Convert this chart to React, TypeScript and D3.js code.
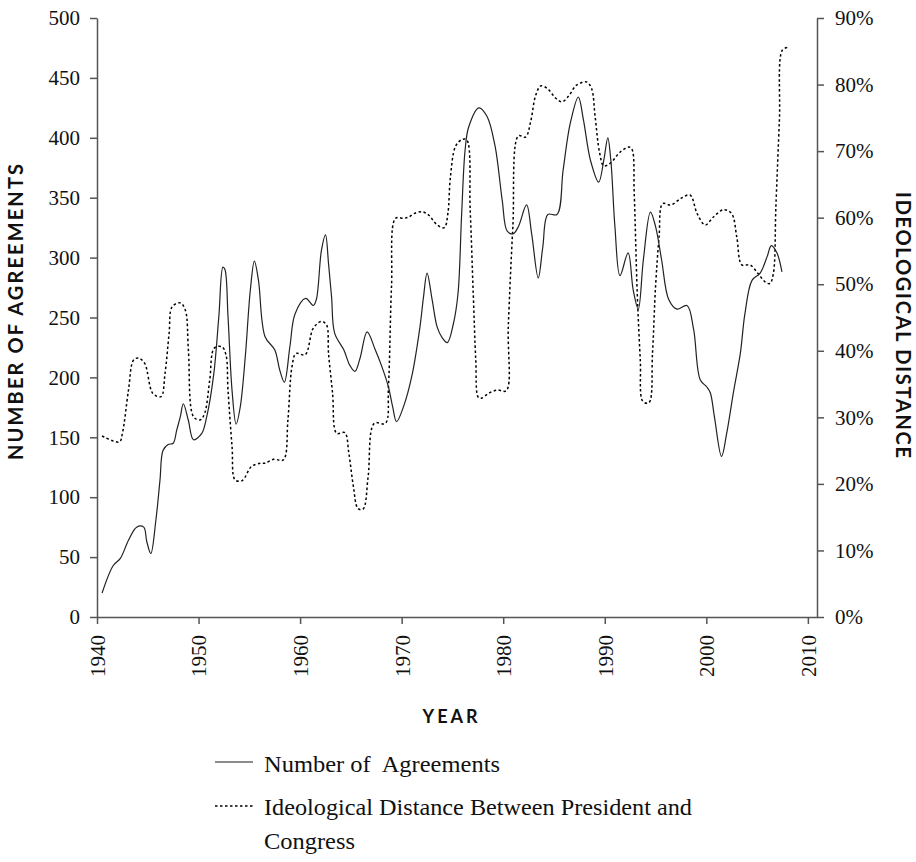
import React, { useEffect, useRef } from 'react';
import * as d3 from 'd3';

// Number of agreements (left axis)
const agreementYears = [
  1940.5, 1941.6, 1942.3, 1943.1, 1943.9, 1944.6, 1944.9, 1945.3, 1945.8, 1946.2,
  1946.5, 1947.0, 1947.5, 1947.85, 1948.2, 1948.5, 1949.0, 1949.5, 1950.3, 1950.8,
  1951.5, 1952.0, 1952.4, 1952.6, 1952.9, 1953.3, 1953.7, 1954.1, 1954.6, 1955.1,
  1955.5, 1955.9, 1956.55, 1957.5, 1958.0, 1958.45, 1959.0, 1959.5, 1960.55, 1961.3,
  1961.6, 1962.1, 1962.5, 1962.8, 1963.1, 1963.4, 1964.3, 1964.9, 1965.4, 1965.9,
  1966.6, 1967.4, 1968.05, 1968.7, 1969.1, 1969.5, 1970.2, 1971.0, 1971.8, 1972.15,
  1972.5, 1973.0, 1973.5, 1974.0, 1974.5, 1975.1, 1975.55, 1975.9, 1976.25, 1976.6,
  1977.6, 1978.4, 1979.2, 1979.9, 1980.4, 1981.0, 1981.5, 1982.3, 1982.8, 1983.45,
  1983.9, 1984.4, 1985.3, 1985.9, 1986.6, 1987.4, 1987.9, 1988.6, 1989.4, 1989.9,
  1990.3, 1990.6, 1991.0, 1991.5, 1992.3, 1992.8, 1993.3, 1993.8, 1994.5, 1995.0,
  1995.6, 1996.3, 1997.1, 1998.1, 1998.75, 1999.4, 2000.05, 2000.4, 2000.8, 2001.5,
  2002.0, 2002.7, 2003.35, 2003.8, 2004.5, 2005.3, 2006.0, 2006.4, 2006.95, 2007.45,
];
const agreementCounts = [
  20, 43, 49, 64, 75, 75, 63, 53, 81, 114,
  139, 144, 145, 156, 167, 178, 164, 148, 153, 167,
  203, 251, 292, 290, 251, 189, 161, 175, 217, 273,
  297, 281, 234, 223, 206, 196, 226, 253, 266, 260,
  265, 306, 319, 295, 267, 237, 223, 210, 205, 216,
  238, 223, 209, 192, 176, 163, 176, 201, 242, 267,
  287, 265, 242, 233, 229, 245, 270, 335, 390, 409,
  425, 418, 393, 348, 322, 320, 326, 344, 320, 283,
  309, 336, 336, 373, 412, 434, 415, 381, 363, 381,
  400, 381, 326, 285, 304, 273, 257, 298, 338, 326,
  298, 265, 257, 260, 240, 198, 192, 187, 167, 134,
  153, 189, 220, 253, 281, 287, 301, 310, 304, 288,
];

// Ideological distance between president and congress (right axis, %)
const distanceYears = [
  1940.5, 1942.2, 1942.5, 1943.1, 1943.6, 1944.1, 1944.7, 1945.5, 1946.3, 1946.7,
  1947.1, 1947.4, 1948.2, 1948.7, 1949.0, 1949.5, 1950.15, 1950.6, 1951.1, 1951.55,
  1952.3, 1952.7, 1952.9, 1953.3, 1953.6, 1954.3, 1955.2, 1956.1, 1956.55, 1957.4,
  1958.35, 1958.8, 1959.2, 1959.6, 1960.5, 1961.3, 1962.1, 1962.6, 1962.8, 1963.2,
  1963.6, 1964.4, 1964.8, 1965.25, 1965.7, 1966.2, 1966.7, 1967.3, 1968.4, 1968.7,
  1969.0, 1969.4, 1970.2, 1970.7, 1971.2, 1972.0, 1972.65, 1973.5, 1974.2, 1974.55,
  1974.8, 1975.3, 1975.9, 1976.4, 1976.75, 1977.05, 1977.3, 1977.55, 1977.9, 1978.55,
  1979.4, 1980.3, 1980.5, 1980.95, 1981.5, 1982.2, 1982.7, 1983.2, 1983.7, 1984.35,
  1985.2, 1985.8, 1986.5, 1987.2, 1988.2, 1988.7, 1989.05, 1989.5, 1989.9, 1990.55,
  1991.55, 1992.4, 1992.7, 1992.9, 1993.2, 1993.5, 1993.75, 1994.35, 1994.7, 1995.0,
  1995.35, 1995.7, 1996.5, 1997.5, 1998.4, 1999.1, 1999.9, 2000.7, 2001.7, 2002.5,
  2003.0, 2003.5, 2004.3, 2005.1, 2005.75, 2006.25, 2006.6, 2006.85, 2007.2, 2007.5,
  2008.1,
];
const distancePcts = [
  27.2, 26.3, 27.6, 34.1, 38.6, 38.9, 38.1, 33.6, 33.1, 36.6,
  42.6, 46.6, 47.2, 46.1, 40.1, 30.1, 29.6, 30.6, 35.6, 40.4,
  40.6, 39.4, 34.1, 25.6, 20.6, 20.5, 22.6, 23.1, 23.1, 23.7,
  23.6, 29.6, 37.6, 39.6, 39.4, 43.4, 44.4, 43.9, 39.6, 33.6,
  27.6, 27.7, 24.6, 19.6, 16.3, 16.2, 21.1, 29.1, 29.1, 34.6,
  49.6, 59.9, 59.9, 60.1, 60.6, 60.9, 60.4, 58.9, 58.5, 60.6,
  66.1, 70.7, 71.7, 71.7, 61.1, 48.6, 38.6, 33.0, 32.9, 33.6,
  34.1, 34.0, 43.6, 58.6, 72.3, 72.1, 74.4, 78.4, 79.8, 79.4,
  77.9, 77.4, 78.4, 79.9, 80.4, 79.4, 75.2, 69.7, 67.8, 68.2,
  69.9, 70.6, 70.2, 63.7, 48.6, 38.6, 32.4, 32.2, 39.6, 49.6,
  57.1, 62.1, 61.9, 62.9, 63.4, 60.6, 58.9, 60.1, 61.2, 60.6,
  57.1, 52.9, 52.9, 51.6, 50.4, 50.1, 51.6, 61.6, 74.7, 85.2,
  85.6,
];

const yearTicks = [1940, 1950, 1960, 1970, 1980, 1990, 2000, 2010];
const countTicks = [0, 50, 100, 150, 200, 250, 300, 350, 400, 450, 500];
const pctTicks = [0, 10, 20, 30, 40, 50, 60, 70, 80, 90];

const W = 916;
const H = 862;
const serif = '"Liberation Serif", "DejaVu Serif", serif';
const sans = 'Lato, "Open Sans", sans-serif';

export default function App() {
  const svgRef = useRef<SVGSVGElement>(null);

  useEffect(() => {
    const svg = d3.select(svgRef.current);
    svg.selectAll('*').remove();

    const x = d3.scaleLinear().domain([1940, 2010.9]).range([97, 817]);
    const yLeft = d3.scaleLinear().domain([0, 500]).range([617, 18]);
    const yRight = d3.scaleLinear().domain([0, 90]).range([617, 18]);
    const axisColor = '#555';

    // left axis
    const gl = svg
      .append('g')
      .attr('transform', `translate(${x.range()[0]},0)`)
      .call(d3.axisLeft(yLeft).tickValues(countTicks).tickSize(7).tickSizeOuter(0).tickPadding(10));

    // right axis
    const gr = svg
      .append('g')
      .attr('transform', `translate(${x.range()[1]},0)`)
      .call(
        d3
          .axisRight(yRight)
          .tickValues(pctTicks)
          .tickSize(7)
          .tickSizeOuter(0)
          .tickPadding(11)
          .tickFormat((d) => `${d}%`)
      );

    // bottom axis, labels turned to read upwards
    const gb = svg
      .append('g')
      .attr('transform', `translate(0,${yLeft(0)})`)
      .call(d3.axisBottom(x).tickValues(yearTicks).tickSize(7).tickSizeOuter(0).tickFormat(d3.format('d')));
    gb.selectAll('text')
      .attr('text-anchor', 'end')
      .attr('transform', 'rotate(-90)')
      .attr('x', -18)
      .attr('y', 0)
      .attr('dy', '0.35em');

    [gl, gr, gb].forEach((g) => {
      g.attr('font-family', serif).attr('font-size', 21);
      g.selectAll('text').attr('fill', '#111');
      g.selectAll('path.domain').attr('stroke', axisColor).attr('stroke-width', 1.5);
      g.selectAll('.tick line').attr('stroke', axisColor).attr('stroke-width', 1.5);
    });

    // data lines
    const curve = d3.curveCatmullRom.alpha(0.5);
    const agreementLine = d3
      .line<number>()
      .x((d, i) => x(agreementYears[i]))
      .y((d) => yLeft(d))
      .curve(curve);
    const distanceLine = d3
      .line<number>()
      .x((d, i) => x(distanceYears[i]))
      .y((d) => yRight(d))
      .curve(curve);

    svg
      .append('path')
      .attr('d', distanceLine(distancePcts))
      .attr('fill', 'none')
      .attr('stroke', '#000')
      .attr('stroke-width', 1.5)
      .attr('stroke-dasharray', '2.5 2.5');

    svg
      .append('path')
      .attr('d', agreementLine(agreementCounts))
      .attr('fill', 'none')
      .attr('stroke', '#222')
      .attr('stroke-width', 1.2);

    // axis titles
    svg
      .append('text')
      .attr('transform', 'translate(23,312) rotate(-90)')
      .attr('text-anchor', 'middle')
      .attr('font-family', sans)
      .attr('font-weight', 700)
      .attr('font-size', 20)
      .attr('textLength', 296)
      .attr('lengthAdjust', 'spacing')
      .attr('fill', '#111')
      .text('NUMBER OF AGREEMENTS');

    svg
      .append('text')
      .attr('transform', 'translate(896,325) rotate(90)')
      .attr('text-anchor', 'middle')
      .attr('font-family', sans)
      .attr('font-weight', 700)
      .attr('font-size', 20)
      .attr('textLength', 266)
      .attr('lengthAdjust', 'spacing')
      .attr('fill', '#111')
      .text('IDEOLOGICAL DISTANCE');

    svg
      .append('text')
      .attr('x', 450)
      .attr('y', 723)
      .attr('text-anchor', 'middle')
      .attr('font-family', sans)
      .attr('font-weight', 700)
      .attr('font-size', 18)
      .attr('textLength', 55)
      .attr('lengthAdjust', 'spacing')
      .attr('fill', '#111')
      .text('YEAR');

    // legend
    const legend = svg.append('g');
    legend
      .append('line')
      .attr('x1', 215)
      .attr('x2', 253)
      .attr('y1', 762)
      .attr('y2', 762)
      .attr('stroke', '#666')
      .attr('stroke-width', 1.3);
    legend
      .append('line')
      .attr('x1', 215)
      .attr('x2', 253)
      .attr('y1', 806)
      .attr('y2', 806)
      .attr('stroke', '#000')
      .attr('stroke-width', 1.5)
      .attr('stroke-dasharray', '2.5 2.5');

    const legendRows = [
      { text: 'Number of  Agreements', y: 772, len: 236 },
      { text: 'Ideological Distance Between President and', y: 815, len: 428 },
      { text: 'Congress', y: 849, len: 91 },
    ];
    legend
      .selectAll('text')
      .data(legendRows)
      .enter()
      .append('text')
      .attr('x', 264)
      .attr('y', (d) => d.y)
      .attr('font-family', serif)
      .attr('font-size', 23)
      .attr('textLength', (d) => d.len)
      .attr('lengthAdjust', 'spacingAndGlyphs')
      .attr('fill', '#111')
      .style('white-space', 'pre')
      .text((d) => d.text);
  }, []);

  return (
    <svg
      ref={svgRef}
      width={W}
      height={H}
      style={{ position: 'absolute', left: 0, top: 0, background: '#fff' }}
    />
  );
}
